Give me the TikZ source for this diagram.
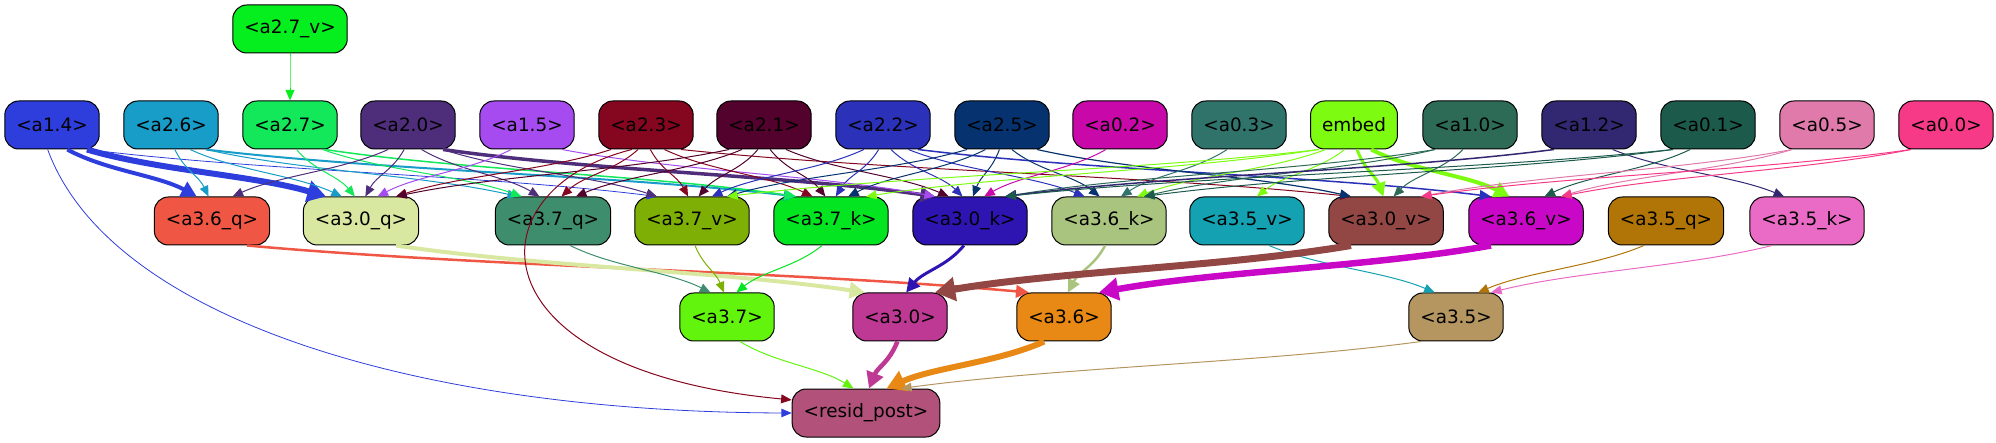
\documentclass[tikz,border=0pt]{standalone}
\usepackage{fontspec}
\setmainfont{DejaVu Sans}
\usetikzlibrary{arrows.meta}
% node colours
\definecolor{ca27v}{HTML}{05EF1F}
\definecolor{ca14}{HTML}{2E3EDC}
\definecolor{ca26}{HTML}{189CC8}
\definecolor{ca27}{HTML}{13E85A}
\definecolor{ca20}{HTML}{4E2E7B}
\definecolor{ca15}{HTML}{A54BF0}
\definecolor{ca23}{HTML}{85061F}
\definecolor{ca21}{HTML}{52022C}
\definecolor{ca22}{HTML}{2B31B8}
\definecolor{ca25}{HTML}{06336F}
\definecolor{ca02}{HTML}{C808A8}
\definecolor{ca03}{HTML}{30736B}
\definecolor{cembed}{HTML}{7DFC12}
\definecolor{ca10}{HTML}{2D6B57}
\definecolor{ca12}{HTML}{322872}
\definecolor{ca01}{HTML}{1C5B4C}
\definecolor{ca05}{HTML}{DF7AAB}
\definecolor{ca00}{HTML}{F73A87}
\definecolor{ca36q}{HTML}{EF5744}
\definecolor{ca30q}{HTML}{D9E8A0}
\definecolor{ca37q}{HTML}{3E8D6C}
\definecolor{ca37v}{HTML}{7EAF04}
\definecolor{ca37k}{HTML}{04E522}
\definecolor{ca30k}{HTML}{2E15B2}
\definecolor{ca36k}{HTML}{A9C47E}
\definecolor{ca35v}{HTML}{14A1B1}
\definecolor{ca30v}{HTML}{924745}
\definecolor{ca36v}{HTML}{C808C6}
\definecolor{ca35q}{HTML}{B17507}
\definecolor{ca35k}{HTML}{EA6BC6}
\definecolor{ca37}{HTML}{63F40E}
\definecolor{ca30}{HTML}{BE3994}
\definecolor{ca36}{HTML}{E78914}
\definecolor{ca35}{HTML}{B59661}
\definecolor{cresid}{HTML}{B2527A}
\newdimen\xsrc
\newdimen\xdst
\newdimen\ysrc
\newdimen\ydst
\tikzset{
  box/.style={
    draw=black,
    line width=1pt,
    rounded corners=14pt,
    fill=c#1,
    minimum height=48pt,
    inner xsep=11.5pt,
    inner ysep=0pt,
    font=\fontsize{18.4}{22}\selectfont
  },
  link/.style 2 args={
    draw=c#1,
    line width=#2pt,
    -{Triangle[length=9pt 1.6,width=6.5pt 2.4]}
  }
}

\begin{document}
\begin{tikzpicture}[x=1pt,y=-1pt]
\useasboundingbox (0,0) rectangle (1996,443);
\node[box=a27v] (a27v) at (290,29) {<a2.7\_v>};
\foreach \name/\xpos/\txt in {%
  a14/52/<a1.4>,
  a26/171/<a2.6>,
  a27/290/<a2.7>,
  a20/408/<a2.0>,
  a15/527/<a1.5>,
  a23/646/<a2.3>,
  a21/764/<a2.1>,
  a22/883/<a2.2>,
  a25/1002/<a2.5>,
  a02/1120/<a0.2>,
  a03/1239/<a0.3>,
  embed/1354/embed,
  a10/1470/<a1.0>,
  a12/1589/<a1.2>,
  a01/1708/<a0.1>,
  a05/1827/<a0.5>,
  a00/1946/<a0.0>%
} {
  \node[box=\name] (\name) at (\xpos,125) {\txt};
}
\foreach \name/\xpos/\txt in {%
  a36q/212/<a3.6\_q>,
  a30q/361/<a3.0\_q>,
  a37q/553/<a3.7\_q>,
  a37v/692/<a3.7\_v>,
  a37k/831/<a3.7\_k>,
  a30k/970/<a3.0\_k>,
  a36k/1109/<a3.6\_k>,
  a35v/1247/<a3.5\_v>,
  a30v/1386/<a3.0\_v>,
  a36v/1526/<a3.6\_v>,
  a35q/1666/<a3.5\_q>,
  a35k/1807/<a3.5\_k>%
} {
  \node[box=\name] (\name) at (\xpos,221) {\txt};
}
\foreach \name/\xpos/\txt in {%
  a37/727/<a3.7>,
  a30/900/<a3.0>,
  a36/1064/<a3.6>,
  a35/1456/<a3.5>%
} {
  \node[box=\name] (\name) at (\xpos,317) {\txt};
}
\node[box=resid] (resid) at (866,413) {<resid\_post>};
% connectors, bent by how far apart the two ends are
\foreach \src/\dst/\width in {%
  a27v/a27/1,
  a14/a36q/4, a14/a30q/6, a14/a37v/0.8,
  a26/a36q/1, a26/a30q/1, a26/a37q/1, a26/a37k/2,
  a27/a30q/1, a27/a37q/1, a27/a37k/1.5,
  a20/a36q/1, a20/a30q/1, a20/a37q/1, a20/a37v/1, a20/a30k/3.5,
  a15/a30q/1, a15/a30k/1,
  a23/a30q/1, a23/a37q/1, a23/a37v/1, a23/a37k/1, a23/a30v/1,
  a21/a30q/1, a21/a37q/1, a21/a37v/1, a21/a37k/1, a21/a30k/1,
  a22/a37v/1, a22/a37k/1, a22/a30k/1, a22/a36k/1, a22/a36v/1.5,
  a25/a37v/1, a25/a37k/1, a25/a30k/1, a25/a30v/1.2, a25/a36k/1,
  a02/a30k/1, a03/a36k/1,
  embed/a30v/3, embed/a36v/4, embed/a35v/1, embed/a36k/1, embed/a37k/1, embed/a37v/1,
  a10/a30v/1, a10/a36k/1, a10/a30k/1,
  a12/a35k/1, a12/a30k/1.5,
  a01/a36v/1, a01/a36k/1, a01/a30k/1,
  a05/a30v/1, a05/a36v/1,
  a00/a36v/1, a00/a30v/1,
  a36q/a36/2.5, a30q/a30/4, a37q/a37/1, a37v/a37/1, a37k/a37/1,
  a30k/a30/3, a36k/a36/2.5, a35v/a35/1, a30v/a30/7, a36v/a36/6.5,
  a35q/a35/1, a35k/a35/1,
  a37/resid/1, a30/resid/4.5, a36/resid/6, a35/resid/1%
} {
  \pgfextractx{\xsrc}{\pgfpointanchor{\src}{center}}
  \pgfextractx{\xdst}{\pgfpointanchor{\dst}{center}}
  \pgfmathsetmacro{\tilt}{max(min((\xdst-\xsrc)/5,55),-55)}
  \pgfmathsetmacro{\aout}{-90+\tilt}
  \pgfmathsetmacro{\ain}{90+\tilt}
  \pgfextractx{\xsrc}{\pgfpointanchor{\src}{\aout}}
  \pgfextracty{\ysrc}{\pgfpointanchor{\src}{\aout}}
  \pgfextractx{\xdst}{\pgfpointanchor{\dst}{\ain}}
  \pgfextracty{\ydst}{\pgfpointanchor{\dst}{\ain}}
  \pgfmathsetmacro{\cx}{0.3*(\xdst-\xsrc)}
  \pgfmathsetmacro{\cy}{0.45*(\ydst-\ysrc)}
  \pgfmathsetmacro{\mcx}{-\cx}
  \pgfmathsetmacro{\mcy}{-\cy}
  \draw[link={\src}{\width}] (\src.\aout) .. controls +(\cx pt,\cy pt) and +(\mcx pt,\mcy pt) .. (\dst.\ain);
}
\draw[link={a14}{0.8}] (a14.-100) .. controls (110,320) and (420,412) .. (resid.west);
\draw[link={a23}{1}] (a23.-120) .. controls (470,190) and (470,370) .. (resid.170);
\end{tikzpicture}
\end{document}
